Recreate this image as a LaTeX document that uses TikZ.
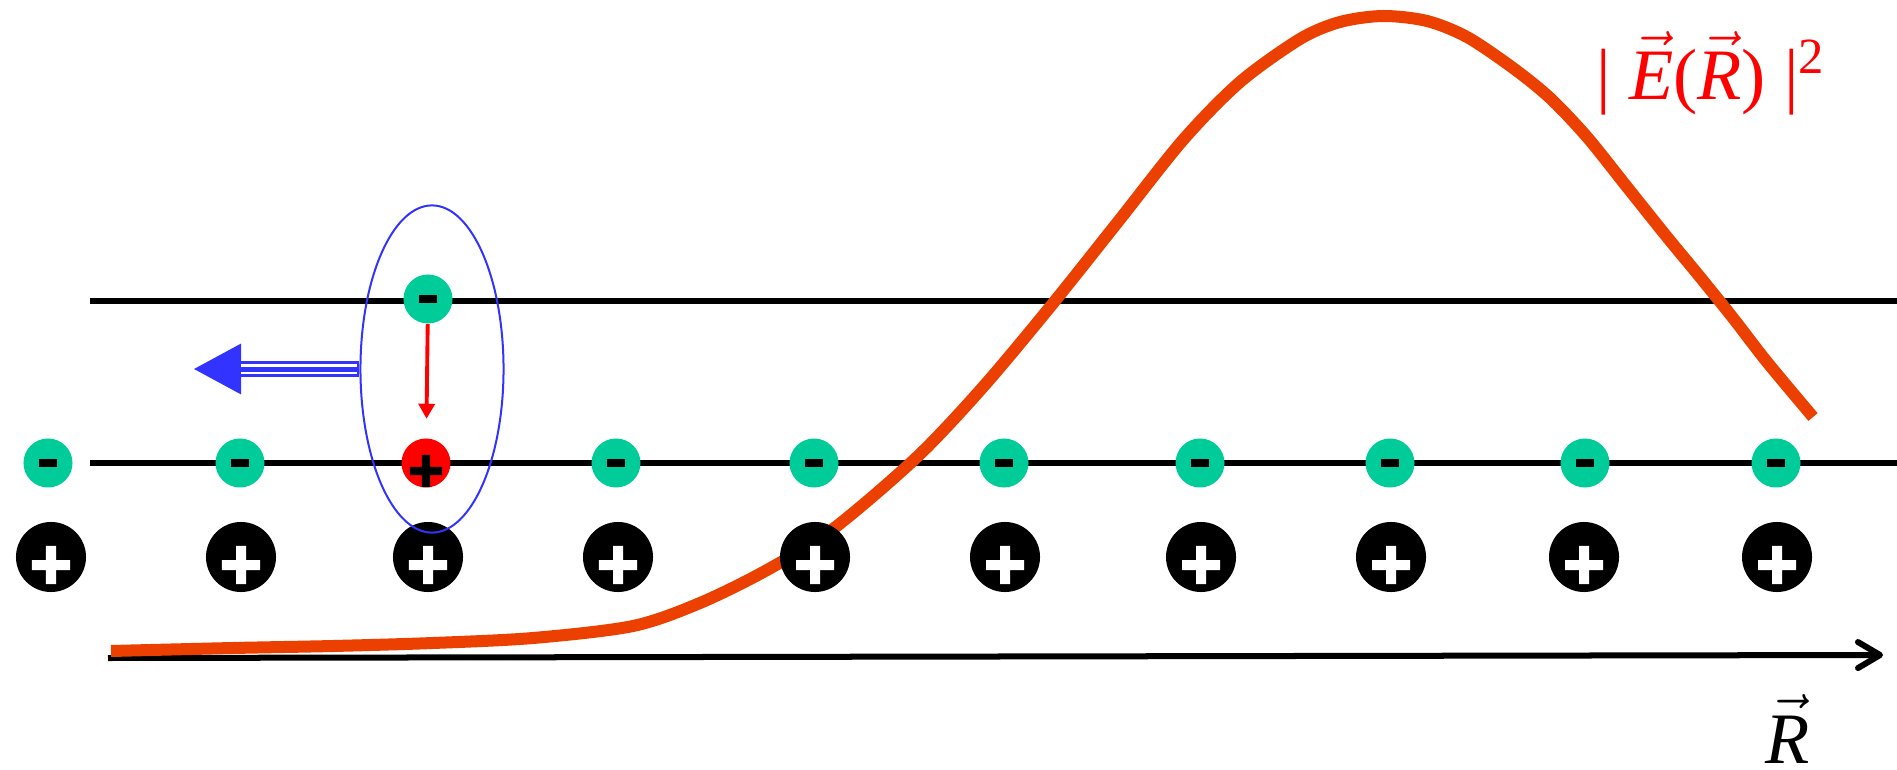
\documentclass[tikz,border=0pt]{standalone}
\usepackage{fontspec}
\setmainfont{Liberation Serif}
\usepackage{xcolor}
\usetikzlibrary{arrows.meta,shapes.geometric}

\definecolor{egreen}{RGB}{0,204,153}
\definecolor{fieldorange}{RGB}{235,64,0}
\definecolor{fblue}{RGB}{51,51,255}

\newcommand{\vecit}[1]{$\vec{\mbox{\itshape #1}}$}

\begin{document}
\begin{tikzpicture}[x=0.01cm, y=-0.01cm,
  every node/.style={font=\fontsize{20.6pt}{24pt}\selectfont},
  electron/.style={circle, fill=egreen, minimum size=0.49cm, inner sep=0pt,
    path picture={\fill[black] (path picture bounding box.center) +(-0.09cm,-0.04cm) rectangle +(0.09cm,0.04cm);}},
  hole/.style={circle, fill=red, minimum size=0.49cm, inner sep=0pt,
    path picture={\fill[black] ([yshift=-0.08cm]path picture bounding box.center) +(-0.16cm,-0.042cm) rectangle +(0.16cm,0.042cm)
      ([yshift=-0.08cm]path picture bounding box.center) +(-0.042cm,-0.16cm) rectangle +(0.042cm,0.16cm);}},
  ion/.style={circle, fill=black, minimum size=0.70cm, inner sep=0pt,
    path picture={\fill[white] ([yshift=-0.08cm]path picture bounding box.center) +(-0.19cm,-0.05cm) rectangle +(0.19cm,0.05cm)
      ([yshift=-0.08cm]path picture bounding box.center) +(-0.05cm,-0.19cm) rectangle +(0.05cm,0.19cm);}},
  lattice/.style={line width=0.06cm}]

\useasboundingbox (0,0) rectangle (1897,770);

% Position axis
\coordinate (r0) at (108,658);
\coordinate (r1) at (1883,655);
\draw[lattice, -{Straight Barb[round, length=0.22cm, width=0.26cm]}] (r0) -- (r1);

% Two lattice planes
\draw[lattice] (90,301) -- (1897,301);
\draw[lattice] (90,463) -- (1897,463);

% Field intensity |E(R)|^2
\draw[fieldorange, line width=0.12cm] plot[smooth, tension=0.5] coordinates {
  (111,651) (233,648) (333,646) (433,643) (533,638) (633,626) (700,603)
  (767,570) (833,529) (917,457) (983,387) (1050,307) (1117,223) (1183,140)
  (1240,82) (1300,39) (1340,22) (1383,16) (1427,21) (1467,37) (1513,68)
  (1550,98) (1587,137) (1627,187) (1667,237) (1700,277) (1733,318)
  (1767,362) (1813,417)};

% Electrons on the lower plane
\node[electron] (e1) at (48,463) {};
\node[electron] (e2) at (240,463) {};
\node[hole] (hole) at (426,463) {};
\node[electron] (e4) at (616,463) {};
\node[electron] (e5) at (814,463) {};
\node[electron] (e6) at (1004,463) {};
\node[electron] (e7) at (1200,463) {};
\node[electron] (e8) at (1390,463) {};
\node[electron] (e9) at (1585,463) {};
\node[electron] (e10) at (1776,463) {};

% Displaced electron on the upper plane
\node[electron] (etop) at (428,299) {};

% Ions
\node[ion] (i1) at (51,557) {};
\node[ion] (i2) at (241,557) {};
\node[ion] (i3) at (428,557) {};
\node[ion] (i4) at (618,557) {};
\node[ion] (i5) at (815,557) {};
\node[ion] (i6) at (1005,557) {};
\node[ion] (i7) at (1201,557) {};
\node[ion] (i8) at (1391,557) {};
\node[ion] (i9) at (1584,557) {};
\node[ion] (i10) at (1777,557) {};

% Exciton and its motion
\node[ellipse, draw=fblue, line width=0.02cm, minimum width=1.43cm, minimum height=3.27cm, inner sep=0pt] (exc) at (432,369) {};
\draw[red, line width=1.1pt, -{Triangle[length=0.15cm, width=0.16cm]}, shorten >=0.19cm] (etop) -- (hole);

\coordinate (ftip) at (193,369);
\draw[fblue, line width=0.16cm, -{Triangle[length=0.48cm, width=0.47cm]}] (exc.west) -- (ftip);
\draw[white, line width=0.10cm, shorten >=0.48cm, shorten <=0.02cm] (exc.west) -- (ftip);
\draw[fblue, line width=0.05cm, shorten >=0.48cm] (exc.west) -- (ftip);

% Labels
\node[red, anchor=base west, inner sep=0pt] (elabel) at (1596,100) {|\ \vecit{E}(\vecit{R})\ |\textsuperscript{2}};
\node[anchor=base, inner sep=0pt] (rlabel) at (1788,763) {\vecit{R}};

\end{tikzpicture}
\end{document}
